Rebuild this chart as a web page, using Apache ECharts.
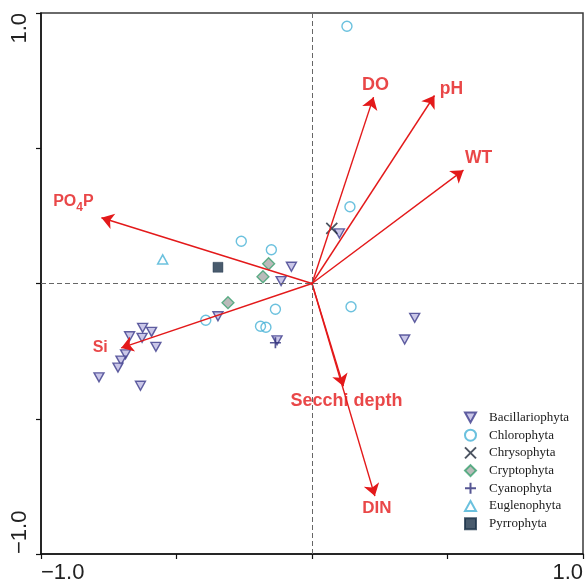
<!DOCTYPE html>
<html>
<head>
<meta charset="utf-8">
<script src="https://cdn.jsdelivr.net/npm/echarts@6/dist/echarts.min.js"></script>
<style>
html,body{margin:0;padding:0;background:#fff;}
#chart{width:586px;height:585px;}
</style>
</head>
<body>
<div id="chart"></div>
<script>
// ---- data ----
var taxa = ['Bacillariophyta','Chlorophyta','Chrysophyta','Cryptophyta','Cyanophyta','Euglenophyta','Pyrrophyta'];
var bacillariophyta = [[0.101,0.185],[0.379,-0.127],[0.342,-0.207],[-0.076,0.062],[-0.114,0.009],[-0.347,-0.121],[-0.129,-0.210],
  [-0.625,-0.164],[-0.592,-0.179],[-0.673,-0.195],[-0.627,-0.201],[-0.576,-0.234],[-0.688,-0.262],[-0.705,-0.285],[-0.716,-0.311],[-0.786,-0.347],[-0.633,-0.378]];
var chlorophyta = [[0.129,0.951],[0.140,0.284],[-0.261,0.156],[-0.150,0.125],[-0.135,-0.095],[-0.190,-0.158],[-0.170,-0.162],[-0.392,-0.136],[0.144,-0.086]];
var chrysophyta = [[0.073,0.204]];
var cryptophyta = [[-0.160,0.073],[-0.181,0.025],[-0.310,-0.071]];
var cyanophyta = [[-0.135,-0.219]];
var euglenophyta = [[-0.551,0.089]];
var pyrrophyta = [[-0.347,0.060]];
var envNames = ['PO4P','Si','DO','pH','WT','Secchi depth','DIN'];
var envX = [-0.777,-0.704,0.227,0.452,0.559,0.116,0.232];
var envY = [0.243,-0.238,0.689,0.695,0.419,-0.380,-0.786];
var xTickLabels = ['\u22121.0','','','','1.0'];
var yTickLabels = ['\u22121.0','','','','1.0'];
var tickValues = [-1,-0.5,0,0.5,1];

// ---- styles ----
var RED = '#e3191a';
var FONT = 'Liberation Sans, Arial, sans-serif';
var labelOffsets = [[-28,-14],[-21,0],[2,-12],[17,-6],[15,-12],[3,15],[2,12]];
var labelSizes = [16,16,18,17.5,17.5,18,17];
var TRI_DOWN = 'path://M0,0L10,0L5,9Z';
var TRI_UP = 'path://M5,0L10,9L0,9Z';
var CROSS_X = 'path://M0,0L10,10M10,0L0,10';
var PLUS = 'path://M5,0L5,10M0,5L10,5';

function tickLabel(arr){ return function(v){ var i = tickValues.indexOf(Math.round(v*2)/2); return i>=0 ? arr[i] : ''; }; }

var chart = echarts.init(document.getElementById('chart'), null, {renderer:'canvas'});

var seriesStyles = [
  {symbol:TRI_DOWN, symbolSize:[10,9], itemStyle:{color:'#bdb9e2', borderColor:'#3c3b8b', borderWidth:1.4}},
  {symbol:'circle', symbolSize:10, itemStyle:{color:'rgba(0,0,0,0)', borderColor:'#46b1d6', borderWidth:1.4}},
  {symbol:CROSS_X, symbolSize:11, itemStyle:{color:'rgba(0,0,0,0)', borderColor:'#1e2838', borderWidth:1.7}},
  {symbol:'diamond', symbolSize:[12,12], itemStyle:{color:'#a9aaa9', borderColor:'#3aa06f', borderWidth:1.3}},
  {symbol:PLUS, symbolSize:11, itemStyle:{color:'rgba(0,0,0,0)', borderColor:'#2c2c78', borderWidth:1.7}},
  {symbol:TRI_UP, symbolSize:[10,9], itemStyle:{color:'rgba(0,0,0,0)', borderColor:'#46b1d6', borderWidth:1.5}},
  {symbol:'rect', symbolSize:10, itemStyle:{color:'#1b3249', borderColor:'#1b3249', borderWidth:0.5}}
];
var seriesData = [bacillariophyta, chlorophyta, chrysophyta, cryptophyta, cyanophyta, euglenophyta, pyrrophyta];

var pointSeries = taxa.map(function(t,i){
  var st = seriesStyles[i];
  return {type:'scatter', name:t, data:seriesData[i], symbol:st.symbol, symbolSize:st.symbolSize,
          itemStyle:st.itemStyle, z:3, emphasis:{disabled:true}};
});

var arrowData = envNames.map(function(n,i){ return {coords:[[0,0],[envX[i],envY[i]]]}; });
var envLabelData = envNames.map(function(n,i){
  var lab = {show:true, position:'inside', offset:labelOffsets[i], color:RED, fontWeight:'bold',
             fontFamily:FONT, fontSize:labelSizes[i]};
  if (n === 'PO4P') {
    lab.formatter = '{n|PO}{s|4}{n|P}';
    lab.rich = {
      n:{fontSize:16, fontWeight:'bold', color:RED, fontFamily:FONT, lineHeight:20, verticalAlign:'top'},
      s:{fontSize:12, fontWeight:'bold', color:RED, fontFamily:FONT, lineHeight:14, padding:[8,0,0,0], verticalAlign:'top'}
    };
  } else {
    lab.formatter = n;
  }
  return {value:[envX[i],envY[i]], label:lab};
});

var axisCommon = {
  type:'value', min:-1, max:1, interval:0.5,
  axisLine:{show:true, onZero:false, lineStyle:{color:'#111', width:1.5}},
  axisTick:{show:true, length:5, lineStyle:{color:'#111', width:1.2}},
  splitLine:{show:false}
};

var option = {
  backgroundColor:'#fff',
  animation:false,
  grid:{left:41, top:13, width:545, height:541, show:true, borderColor:'#3a3a3a', borderWidth:1.5, backgroundColor:'transparent'},
  xAxis: Object.assign({}, axisCommon, {
    axisLabel:{show:true, interval:0, formatter:tickLabel(xTickLabels), fontSize:22, color:'#222',
      fontFamily:FONT, margin:8, alignMinLabel:'left', alignMaxLabel:'right'}
  }),
  yAxis: Object.assign({}, axisCommon, {
    axisLabel:{show:true, interval:0, rotate:90, formatter:tickLabel(yTickLabels), fontSize:22, color:'#222',
      fontFamily:FONT, margin:10, alignMinLabel:'left', alignMaxLabel:'right'}
  }),
  legend:{
    data:taxa.map(function(t,i){ return {name:t, icon:seriesStyles[i].symbol}; }),
    orient:'vertical', left:459, top:406, itemWidth:11, itemHeight:11, itemGap:4.7,
    selectedMode:false,
    textStyle:{fontFamily:'Liberation Serif, Times New Roman, serif', fontSize:13, color:'#1a1a1a', padding:[0,0,0,8]}
  },
  series: pointSeries.concat([
    {
      type:'scatter', name:'zero', data:[], silent:true, z:1,
      markLine:{silent:true, symbol:'none', label:{show:false},
        lineStyle:{color:'#666', type:[5,3], width:1},
        data:[{xAxis:0},{yAxis:0}]}
    },
    {
      type:'lines', coordinateSystem:'cartesian2d', name:'env', z:4, silent:true,
      symbol:['none','arrow'], symbolSize:[8,12],
      lineStyle:{color:RED, width:1.4, opacity:1},
      data:arrowData
    },
    {
      type:'scatter', name:'envLabels', z:5, silent:true, symbolSize:1,
      itemStyle:{color:'rgba(0,0,0,0)'},
      data:envLabelData
    }
  ])
};
chart.setOption(option);
</script>
</body>
</html>
